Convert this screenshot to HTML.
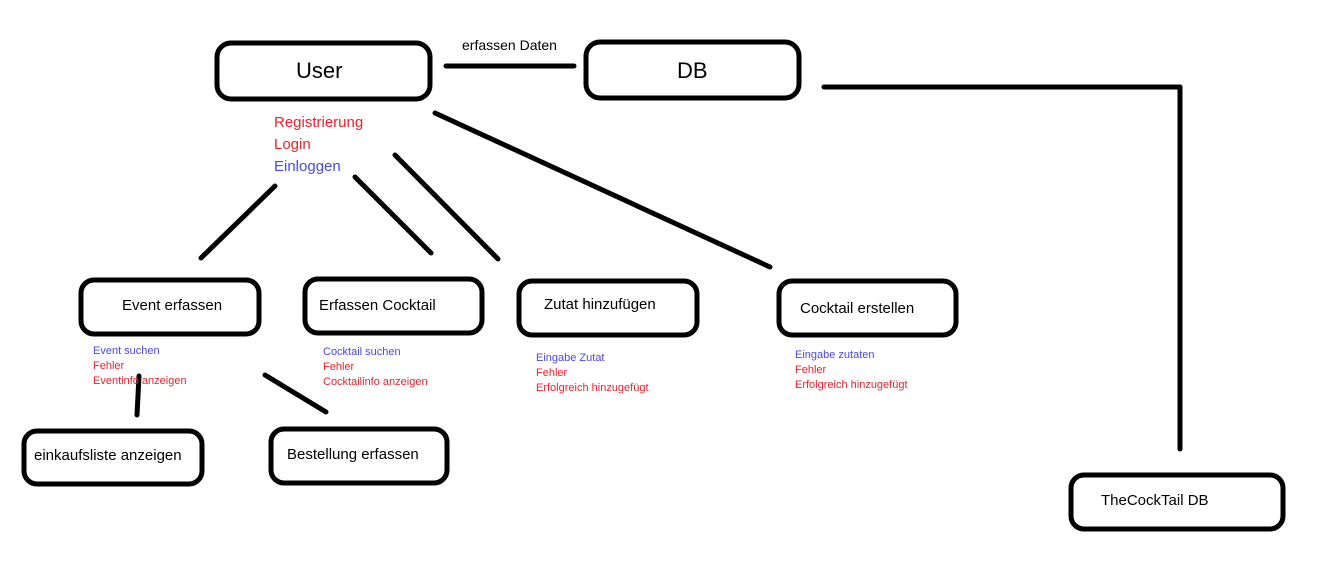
<!DOCTYPE html>
<html><head><meta charset="utf-8"><style>
html,body{margin:0;padding:0;background:#fff;width:1328px;height:586px;overflow:hidden}
svg{display:block}
text{font-family:"Liberation Sans",sans-serif}
.b{fill:none;stroke:#000;stroke-width:5}
.l{stroke:#000;stroke-width:5;stroke-linecap:round}
.t{fill:#000}
.s{font-size:11px}
.r{fill:#f0202a}
.u{fill:#4848e8}
</style></head><body>
<svg width="1328" height="586" xmlns="http://www.w3.org/2000/svg">
<rect class="b" x="217" y="43" width="213" height="56" rx="14"/>
<rect class="b" x="586" y="42" width="213" height="56" rx="14"/>
<rect class="b" x="81" y="280" width="178" height="54" rx="13"/>
<rect class="b" x="305" y="279" width="177" height="54" rx="13"/>
<rect class="b" x="519" y="281" width="178" height="54" rx="13"/>
<rect class="b" x="779" y="281" width="177" height="54" rx="13"/>
<rect class="b" x="24" y="431" width="178" height="53" rx="13"/>
<rect class="b" x="271" y="429" width="176" height="54" rx="13"/>
<rect class="b" x="1071" y="475" width="212" height="54" rx="13"/>

<line class="l" x1="446" y1="66" x2="574" y2="66"/>
<line class="l" x1="824" y1="87" x2="1180" y2="87"/>
<line class="l" x1="1180" y1="87" x2="1180" y2="449"/>
<line class="l" x1="275" y1="186" x2="201" y2="258"/>
<line class="l" x1="355" y1="177" x2="431" y2="253"/>
<line class="l" x1="395" y1="155" x2="498" y2="259"/>
<line class="l" x1="435" y1="113" x2="770" y2="267"/>
<line class="l" x1="139" y1="376" x2="137" y2="415"/>
<line class="l" x1="265" y1="375" x2="326" y2="412"/>

<text class="t" x="296" y="78" style="font-size:22px">User</text>
<text class="t" x="677" y="78" style="font-size:22px">DB</text>
<text class="t" x="462" y="50" style="font-size:14px">erfassen Daten</text>
<text x="274" y="127" style="font-size:15px" class="r">Registrierung</text>
<text x="274" y="149" style="font-size:15px" class="r">Login</text>
<text x="274" y="171" style="font-size:15px" class="u">Einloggen</text>

<text class="t" x="122" y="310" style="font-size:15px">Event erfassen</text>
<text class="t" x="319" y="310" style="font-size:15px">Erfassen Cocktail</text>
<text class="t" x="544" y="309" style="font-size:15px">Zutat hinzufügen</text>
<text class="t" x="800" y="313" style="font-size:15px">Cocktail erstellen</text>
<text class="t" x="34" y="460" style="font-size:15px">einkaufsliste anzeigen</text>
<text class="t" x="287" y="459" style="font-size:15px">Bestellung erfassen</text>
<text class="t" x="1101" y="505" style="font-size:15px">TheCockTail DB</text>

<text x="93" y="354" class="s u">Event suchen</text>
<text x="93" y="369" class="s r">Fehler</text>
<text x="93" y="384" class="s r">Eventinfo anzeigen</text>
<text x="323" y="355" class="s u">Cocktail suchen</text>
<text x="323" y="370" class="s r">Fehler</text>
<text x="323" y="385" class="s r">Cocktailinfo anzeigen</text>
<text x="536" y="361" class="s u">Eingabe Zutat</text>
<text x="536" y="376" class="s r">Fehler</text>
<text x="536" y="391" class="s r">Erfolgreich hinzugefügt</text>
<text x="795" y="358" class="s u">Eingabe zutaten</text>
<text x="795" y="373" class="s r">Fehler</text>
<text x="795" y="388" class="s r">Erfolgreich hinzugefügt</text>
</svg>
</body></html>
